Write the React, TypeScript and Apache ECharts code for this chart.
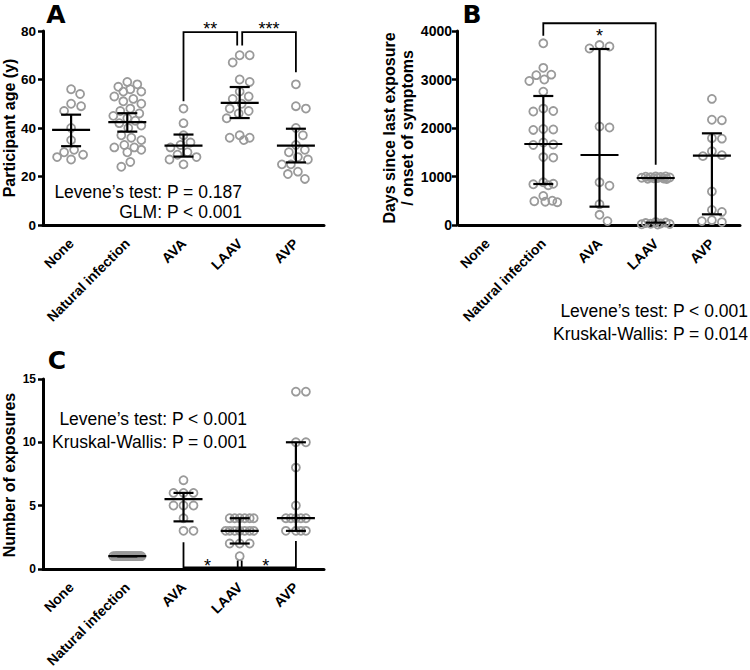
import React, { useEffect, useRef } from "react";
import * as echarts from "echarts";

// ---------- data ----------
const categories = ["None", "Natural infection", "AVA", "LAAV", "AVP"];

// Panel A: participant age (y)
const ageNone = [56, 54, 50, 49, 47, 40, 35, 31, 30, 29, 28, 27];
const ageNatural = [59, 58, 57, 56, 55, 55, 53, 52, 51, 50, 48, 47, 46, 45, 44, 43, 42, 41, 40, 37, 36, 35, 33, 32, 32, 31, 30, 26, 24];
const ageAVA = [48, 42, 37, 34, 33, 32, 30, 29, 28, 27, 25];
const ageLAAV = [70, 70, 67, 60, 59, 55, 53, 52, 50, 48, 47, 46, 44, 37, 36, 36, 35];
const ageAVP = [58, 49, 48, 40, 37, 33, 31, 30, 28, 27, 25, 25, 22, 21, 19];
const ageMean = [39.2, 42.4, 32.7, 50.4, 32.7];
const ageLow = [32.5, 38.5, 28.2, 44.1, 25.8];
const ageHigh = [45.5, 46.1, 37.3, 56.9, 39.7];

// Panel B: days since last exposure / onset of symptoms
const daysNone: number[] = [];
const daysNatural = [3746, 3240, 3100, 3090, 3000, 2970, 2750, 2400, 2350, 2340, 1980, 1970, 1960, 1700, 1660, 1650, 1400, 1390, 880, 850, 840, 820, 600, 500, 490, 480, 470];
const daysAVA = [3710, 3680, 3640, 2030, 2010, 880, 810, 430, 210, 80];
const daysLAAV = [1000, 1000, 995, 990, 985, 980, 975, 970, 965, 960, 955, 950, 60, 50, 40, 30, 25, 20, 15, 10];
const daysAVP = [2600, 2170, 2160, 1790, 1780, 1520, 1440, 1420, 690, 310, 270, 100, 80, 60];
const daysMedian = [null, 1670, 1443, 969, 1430];
const daysQ1 = [null, 845, 378, 48, 220];
const daysQ3 = [null, 2660, 3629, 969, 1890];

// Panel C: number of exposures
const expNone: number[] = [];
const expNatural = [1, 1, 1, 1, 1, 1, 1, 1, 1, 1, 1, 1, 1, 1, 1, 1, 1, 1, 1, 1, 1, 1, 1, 1, 1, 1, 1, 1];
const expAVA = [7, 6, 6, 6, 5, 5, 5, 4, 3, 3];
const expLAAV = [4, 4, 4, 4, 4, 4, 3, 3, 3, 3, 3, 3, 3, 2, 2, 2, 1];
const expAVP = [14, 14, 10, 10, 8, 5, 4, 4, 4, 4, 4, 3, 3, 3, 3];
const expMedian = [null, 1, 5.5, 3, 4];
const expQ1 = [null, 1, 3.75, 2, 3];
const expQ3 = [null, 1, 6, 4, 10];

// significance brackets: [fromCat, toCat, level, fromEnd, toEnd]
const bracketsA = [
  [2, 3, 79.5, 51, 74],
  [3, 4, 79.5, 74, 63],
];
const bracketsALabels = ["**", "***"];
const bracketsB = [[1, 3, 4160, 3900, 1240]];
const bracketsBLabels = ["*"];
const bracketsC = [[2, 4, 0.12, 2.1, 2.2]];
const bracketCMid = [3, 0.65];
const bracketsCLabels = ["*", "*"];

// ---------- styling ----------
const FONT = "'Liberation Sans', Arial, Helvetica, sans-serif";
const R = 4;
const SW = 1.8;
const DIAM = 2 * R + SW + 0.2;
const HALF = 14;

function swarm(ys: number[]): number[] {
  const order = ys.map((_, i) => i).sort((a, b) => ys[a] - ys[b]);
  const placed: { x: number; y: number }[] = [];
  const out = new Array(ys.length).fill(0);
  const cands: number[] = [0];
  for (let k = 1; k <= HALF; k++) cands.push(k, -k);
  for (const i of order) {
    const y = ys[i];
    let chosen: number | null = null;
    for (const c of cands) {
      let ok = true;
      for (const p of placed) {
        const dx = p.x - c, dy = p.y - y;
        if (dx * dx + dy * dy < DIAM * DIAM) { ok = false; break; }
      }
      if (ok) { chosen = c; break; }
    }
    if (chosen === null) {
      let best = 0, bestD = -1;
      for (const c of cands) {
        let m = Infinity;
        for (const p of placed) {
          const dx = p.x - c, dy = p.y - y;
          const dd = dx * dx + dy * dy;
          if (dd < m) m = dd;
        }
        if (m > bestD + 0.01) { bestD = m; best = c; }
      }
      chosen = best;
    }
    placed.push({ x: chosen, y });
    out[i] = chosen;
  }
  return out;
}

function pointsSeries(g: number, groups: number[][]) {
  return {
    type: "custom",
    xAxisIndex: g,
    yAxisIndex: g,
    clip: false,
    silent: true,
    data: groups.map((vals, i) => [i, vals.length ? vals[0] : 0]).filter((_, i) => groups[i].length > 0),
    renderItem: (params: any, api: any) => {
      const idx = api.value(0);
      const vals = groups[idx];
      const pts = vals.map((v) => api.coord([idx, v]));
      const offs = swarm(pts.map((p: number[]) => p[1]));
      return {
        type: "group",
        children: pts.map((p: number[], i: number) => ({
          type: "circle",
          shape: { cx: p[0] + offs[i], cy: p[1], r: R },
          style: { fill: "none", stroke: "#9a9a9a", lineWidth: SW },
        })),
      };
    },
  };
}

function summarySeries(g: number, centers: (number | null)[], lows: (number | null)[], highs: (number | null)[]) {
  return {
    type: "custom",
    xAxisIndex: g,
    yAxisIndex: g,
    clip: false,
    silent: true,
    data: centers.map((c, i) => [i, c, lows[i], highs[i]]).filter((d) => d[1] != null),
    renderItem: (params: any, api: any) => {
      const i = api.value(0);
      const pc = api.coord([i, api.value(1)]);
      const pl = api.coord([i, api.value(2)]);
      const ph = api.coord([i, api.value(3)]);
      const x = pc[0];
      const st = { stroke: "#000", lineWidth: 2.2 };
      return {
        type: "group",
        children: [
          { type: "line", shape: { x1: x, y1: pl[1], x2: x, y2: ph[1] }, style: st },
          { type: "line", shape: { x1: x - 19, y1: pc[1], x2: x + 19, y2: pc[1] }, style: st },
          { type: "line", shape: { x1: x - 10, y1: pl[1], x2: x + 10, y2: pl[1] }, style: st },
          { type: "line", shape: { x1: x - 10, y1: ph[1], x2: x + 10, y2: ph[1] }, style: st },
        ],
      };
    },
  };
}

function bracketSeries(g: number, brackets: number[][], labels: string[], nudges: number[][], labelDy: number, mid?: number[]) {
  return {
    type: "custom",
    xAxisIndex: g,
    yAxisIndex: g,
    clip: false,
    silent: true,
    data: brackets.map((b, i) => [i, b[2]]),
    renderItem: (params: any, api: any) => {
      const k = api.value(0);
      const b = brackets[k];
      const [n1, n2] = nudges[k];
      const a1 = api.coord([b[0], b[3]]);
      const t1 = api.coord([b[0], b[2]]);
      const t2 = api.coord([b[1], b[2]]);
      const a2 = api.coord([b[1], b[4]]);
      const st = { stroke: "#000", lineWidth: 1.8, fill: "none" };
      const children: any[] = [
        {
          type: "polyline",
          shape: { points: [[a1[0] + n1, a1[1]], [t1[0] + n1, t1[1]], [t2[0] + n2, t2[1]], [a2[0] + n2, a2[1]]] },
          style: st,
        },
      ];
      const textStyle = { fontFamily: FONT, fontSize: 18, fill: "#000", align: "center", verticalAlign: "middle" };
      if (mid) {
        const m0 = api.coord([mid[0], b[2]]);
        const m1 = api.coord([mid[0], mid[1]]);
        children.push({ type: "line", shape: { x1: m0[0] - 2, y1: m0[1], x2: m1[0] - 2, y2: m1[1] }, style: st });
        children.push({ type: "line", shape: { x1: m0[0] + 2, y1: m0[1], x2: m1[0] + 2, y2: m1[1] }, style: st });
        children.push({ type: "text", x: (t1[0] + m0[0]) / 2 - 4, y: t1[1] + labelDy, style: { ...textStyle, text: labels[0] } });
        children.push({ type: "text", x: (m0[0] + t2[0]) / 2 - 2, y: t1[1] + labelDy, style: { ...textStyle, text: labels[1] } });
      } else {
        children.push({ type: "text", x: (t1[0] + n1 + t2[0] + n2) / 2, y: t1[1] + labelDy, style: { ...textStyle, text: labels[k] } });
      }
      return { type: "group", children };
    },
  };
}

function xAxisFor(g: number) {
  return {
    type: "category",
    gridIndex: g,
    data: categories,
    axisLine: { lineStyle: { color: "#000", width: 3 } },
    axisTick: { alignWithLabel: true, length: 5, lineStyle: { color: "#000", width: 2.5 } },
    axisLabel: { rotate: 45, interval: 0, fontSize: 14, fontWeight: "bold", fontFamily: FONT, color: "#000", margin: 16 },
    splitLine: { show: false },
  };
}

function yAxisFor(g: number, max: number, interval: number, fontSize: number, offset: number, margin: number) {
  return {
    type: "value",
    gridIndex: g,
    min: 0,
    max,
    interval,
    offset,
    axisLine: { show: true, lineStyle: { color: "#000", width: 3 } },
    axisTick: { show: true, length: 5, lineStyle: { color: "#000", width: 2.5 } },
    axisLabel: { fontSize, fontWeight: "bold", fontFamily: FONT, color: "#000", margin, formatter: (v: number) => String(v) },
    splitLine: { show: false },
  };
}

function txt(x: number, y: number, text: string, opts: any = {}) {
  return {
    type: "text",
    x,
    y,
    rotation: opts.rotation || 0,
    style: {
      text,
      fontFamily: opts.fontFamily || FONT,
      fontSize: opts.fontSize || 17.5,
      fontWeight: opts.fontWeight || "normal",
      fill: "#000",
      align: opts.align || "right",
      verticalAlign: "middle",
      lineHeight: opts.lineHeight,
    },
  };
}

export default function App() {
  const ref = useRef<HTMLDivElement>(null);
  useEffect(() => {
    if (!ref.current) return;
    const chart = echarts.init(ref.current, null, { renderer: "svg" });
    const option: any = {
      animation: false,
      backgroundColor: "#fff",
      grid: [
        { left: 43, top: 31, width: 281, height: 194 },
        { left: 459, top: 31, width: 281, height: 194 },
        { left: 43, top: 379, width: 281, height: 192 },
      ],
      xAxis: [xAxisFor(0), xAxisFor(1), xAxisFor(2)],
      yAxis: [
        yAxisFor(0, 80, 20, 13.5, 0, 7),
        yAxisFor(1, 4000, 1000, 14, 2, 5),
        yAxisFor(2, 15, 5, 12, 0, 7),
      ],
      series: [
        pointsSeries(0, [ageNone, ageNatural, ageAVA, ageLAAV, ageAVP]),
        summarySeries(0, ageMean, ageLow, ageHigh),
        bracketSeries(0, bracketsA, bracketsALabels, [[0, -2.5], [2.5, 0]], -3.5),
        pointsSeries(1, [daysNone, daysNatural, daysAVA, daysLAAV, daysAVP]),
        summarySeries(1, daysMedian, daysQ1, daysQ3),
        bracketSeries(1, bracketsB, bracketsBLabels, [[0, 0]], 12.7),
        pointsSeries(2, [expNone, expNatural, expAVA, expLAAV, expAVP]),
        summarySeries(2, expMedian, expQ1, expQ3),
        bracketSeries(2, bracketsC, bracketsCLabels, [[0, 0]], -1.7, bracketCMid),
      ],
      graphic: [
        txt(56, 14, "A", { fontFamily: "'DejaVu Sans', sans-serif", fontSize: 25, fontWeight: "bold", align: "center" }),
        txt(472, 14, "B", { fontFamily: "'DejaVu Sans', sans-serif", fontSize: 25, fontWeight: "bold", align: "center" }),
        txt(57, 360, "C", { fontFamily: "'DejaVu Sans', sans-serif", fontSize: 25, fontWeight: "bold", align: "center" }),
        txt(242, 192, "Levene\u2019s test: P = 0.187"),
        txt(242, 212, "GLM: P < 0.001"),
        txt(748, 311, "Levene\u2019s test: P < 0.001"),
        txt(748, 334, "Kruskal-Wallis: P = 0.014"),
        txt(247, 419, "Levene\u2019s test: P < 0.001"),
        txt(247, 442, "Kruskal-Wallis: P = 0.001"),
        txt(9, 128, "Participant age (y)", { fontSize: 16, fontWeight: "bold", align: "center", rotation: Math.PI / 2 }),
        txt(398.5, 128, "Days since last exposure\n/ onset of symptoms", { fontSize: 16, fontWeight: "bold", align: "center", rotation: Math.PI / 2, lineHeight: 18 }),
        txt(9, 475, "Number of exposures", { fontSize: 16, fontWeight: "bold", align: "center", rotation: Math.PI / 2 }),
      ],
    };
    chart.setOption(option);
    return () => chart.dispose();
  }, []);
  return <div ref={ref} style={{ position: "fixed", left: 0, top: 0, width: 750, height: 670, background: "#fff" }} />;
}
